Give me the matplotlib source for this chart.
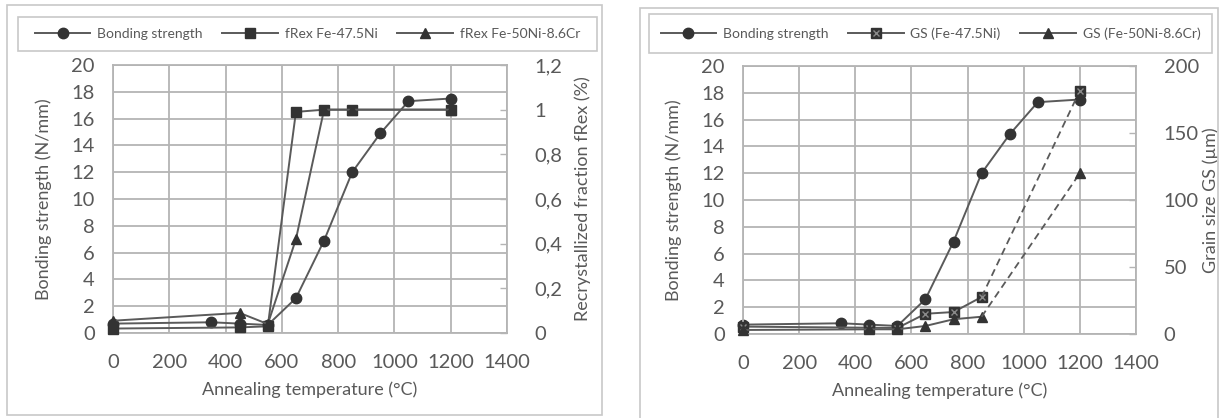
import numpy as np
import matplotlib
matplotlib.use("Agg")
import matplotlib.pyplot as plt
from matplotlib.patches import Rectangle

plt.rcParams['font.family'] = ['Lato', 'DejaVu Sans']

# data
temp_bond = [0, 350, 450, 550, 650, 750, 850, 950, 1050, 1200]
bond = [0.7, 0.8, 0.7, 0.6, 2.6, 6.9, 12.0, 14.9, 17.3, 17.5]

temp_frex = [0, 450, 550, 650, 750, 850, 1200]
frex_ni = [0.02, 0.025, 0.03, 0.99, 1.0, 1.0, 1.0]
frex_cr = [0.055, 0.09, 0.04, 0.42, 1.0, 1.0, 1.0]

temp_gs = [0, 450, 550, 650, 750, 850, 1200]
gs_ni = [5.5, 4.7, 4.5, 15.1, 16.4, 27.6, 181.6]
gs_cr = [3.0, 3.5, 3.5, 6.0, 11.0, 12.9, 120.0]

x_ticks = [0, 200, 400, 600, 800, 1000, 1200, 1400]
bond_ticks = list(range(0, 21, 2))
frex_ticks = [0, 0.2, 0.4, 0.6, 0.8, 1.0, 1.2]
frex_labels = ['0', '0,2', '0,4', '0,6', '0,8', '1', '1,2']
gs_ticks = [0, 50, 100, 150, 200]

TXT = '#595959'
GRID = '#b4b4b4'
LINE = '#5a5a5a'
MK = '#333333'

W, H = 1228, 418
fig = plt.figure(figsize=(W / 100, H / 100), dpi=100)


def fbox(x0, y0, x1, y1):
    # pixel box (top-left origin) -> figure fraction [l, b, w, h]
    return [x0 / W, 1 - y1 / H, (x1 - x0) / W, (y1 - y0) / H]


def frame(x0, y0, x1, y1, color):
    l, b, w, h = fbox(x0, y0, x1, y1)
    fig.patches.append(Rectangle((l, b), w, h, transform=fig.transFigure,
                                 fill=False, edgecolor=color, lw=1.2))


def base_axes(rect):
    ax = fig.add_axes(rect)
    ax.set_xlim(0, 1400)
    ax.set_ylim(0, 20)
    ax.set_xticks(x_ticks)
    ax.set_yticks(bond_ticks)
    ax.grid(True, color=GRID, lw=1.3)
    ax.set_axisbelow(True)
    for s in ax.spines.values():
        s.set_color(GRID)
        s.set_linewidth(1.3)
    ax.tick_params(length=0, labelsize=14.5, colors=TXT)
    ax.tick_params(axis='x', pad=15)
    ax.tick_params(axis='y', pad=13)
    ax.set_ylabel('Bonding strength (N/mm)', fontsize=13, color=TXT)
    ax.set_xlabel('Annealing temperature (°C)', fontsize=13, color=TXT)
    ax.yaxis.set_label_coords(-0.155, 0.5)
    ax.xaxis.set_label_coords(0.5, -0.179)
    return ax


def twin(ax):
    tw = ax.twinx()
    for s in tw.spines.values():
        s.set_visible(False)
    tw.tick_params(axis='y', direction='in', length=5, width=1, color=GRID,
                   labelsize=14.5, labelcolor=TXT, pad=20)
    return tw


line_kw = dict(color=LINE, lw=1.4, markerfacecolor=MK, markeredgecolor=MK,
               clip_on=False)
mk_only = dict(markerfacecolor=MK, markeredgecolor=MK, clip_on=False)

# ---------------- left panel ----------------
frame(7, 5, 602, 415, '#c8c8c8')
frame(18, 17, 597, 51, '#c8c8c8')
ax1 = base_axes(fbox(113, 65, 507, 333))
tw1 = twin(ax1)
tw1.set_ylim(0, 1.2)
tw1.set_yticks(frex_ticks)
tw1.set_yticklabels(frex_labels)
tw1.set_ylabel('Recrystallized fraction fRex (%)', fontsize=13, color=TXT)
tw1.yaxis.set_label_coords(1.170, 0.5)

h1, = ax1.plot(temp_bond, bond, marker='o', ms=7.5, label='Bonding strength', **line_kw)
h2, = tw1.plot(temp_frex, frex_ni, marker='s', ms=7, label='fRex Fe-47.5Ni', **line_kw)
h3, = tw1.plot(temp_frex, frex_cr, marker='^', ms=7, label='fRex Fe-50Ni-8.6Cr', **line_kw)

l, b, w, h = fbox(18, 17, 597, 51)
fig.legend([h1, h2, h3], [h.get_label() for h in (h1, h2, h3)],
           loc='center', bbox_to_anchor=(l + w / 2, b + h / 2), ncol=3,
           frameon=False, fontsize=10, handlelength=4, columnspacing=1.4,
           handletextpad=0.5, labelcolor=TXT)

# ---------------- right panel ----------------
frame(640, 8, 1218, 430, '#c8c8c8')
frame(649, 14, 1212, 53, '#c8c8c8')
ax2 = base_axes(fbox(743, 66, 1136, 334))
tw2 = twin(ax2)
tw2.set_ylim(0, 200)
tw2.set_yticks(gs_ticks)
tw2.set_ylabel('Grain size GS (µm)', fontsize=13, color=TXT)
tw2.yaxis.set_label_coords(1.168, 0.5)

g1, = ax2.plot(temp_bond, bond, marker='o', ms=7.5, label='Bonding strength', **line_kw)

# solid up to 850 °C, dashed to the last point
g2, = tw2.plot(temp_gs[:-1], gs_ni[:-1], marker='s', ms=7, label='GS (Fe-47.5Ni)', **line_kw)
tw2.plot(temp_gs[-2:], gs_ni[-2:], color=LINE, lw=1.3, ls=(0, (4, 2.5)))
tw2.plot(temp_gs[-1:], gs_ni[-1:], marker='s', ms=7, ls='none', **mk_only)
gx, = tw2.plot(temp_gs, gs_ni, marker='x', ms=4.5, ls='none', mew=1, color='#8a8a8a',
               clip_on=False)

g3, = tw2.plot(temp_gs[:-1], gs_cr[:-1], marker='^', ms=7, label='GS (Fe-50Ni-8.6Cr)', **line_kw)
tw2.plot(temp_gs[-2:], gs_cr[-2:], color=LINE, lw=1.3, ls=(0, (4, 2.5)))
tw2.plot(temp_gs[-1:], gs_cr[-1:], marker='^', ms=7, ls='none', **mk_only)

l, b, w, h = fbox(649, 14, 1212, 53)
fig.legend([g1, (g2, gx), g3], ['Bonding strength', 'GS (Fe-47.5Ni)', 'GS (Fe-50Ni-8.6Cr)'],
           loc='center', bbox_to_anchor=(l + w / 2, b + h / 2), ncol=3,
           frameon=False, fontsize=10, handlelength=4, columnspacing=1.4,
           handletextpad=0.5, labelcolor=TXT)

fig.savefig('out.png', dpi=100)
